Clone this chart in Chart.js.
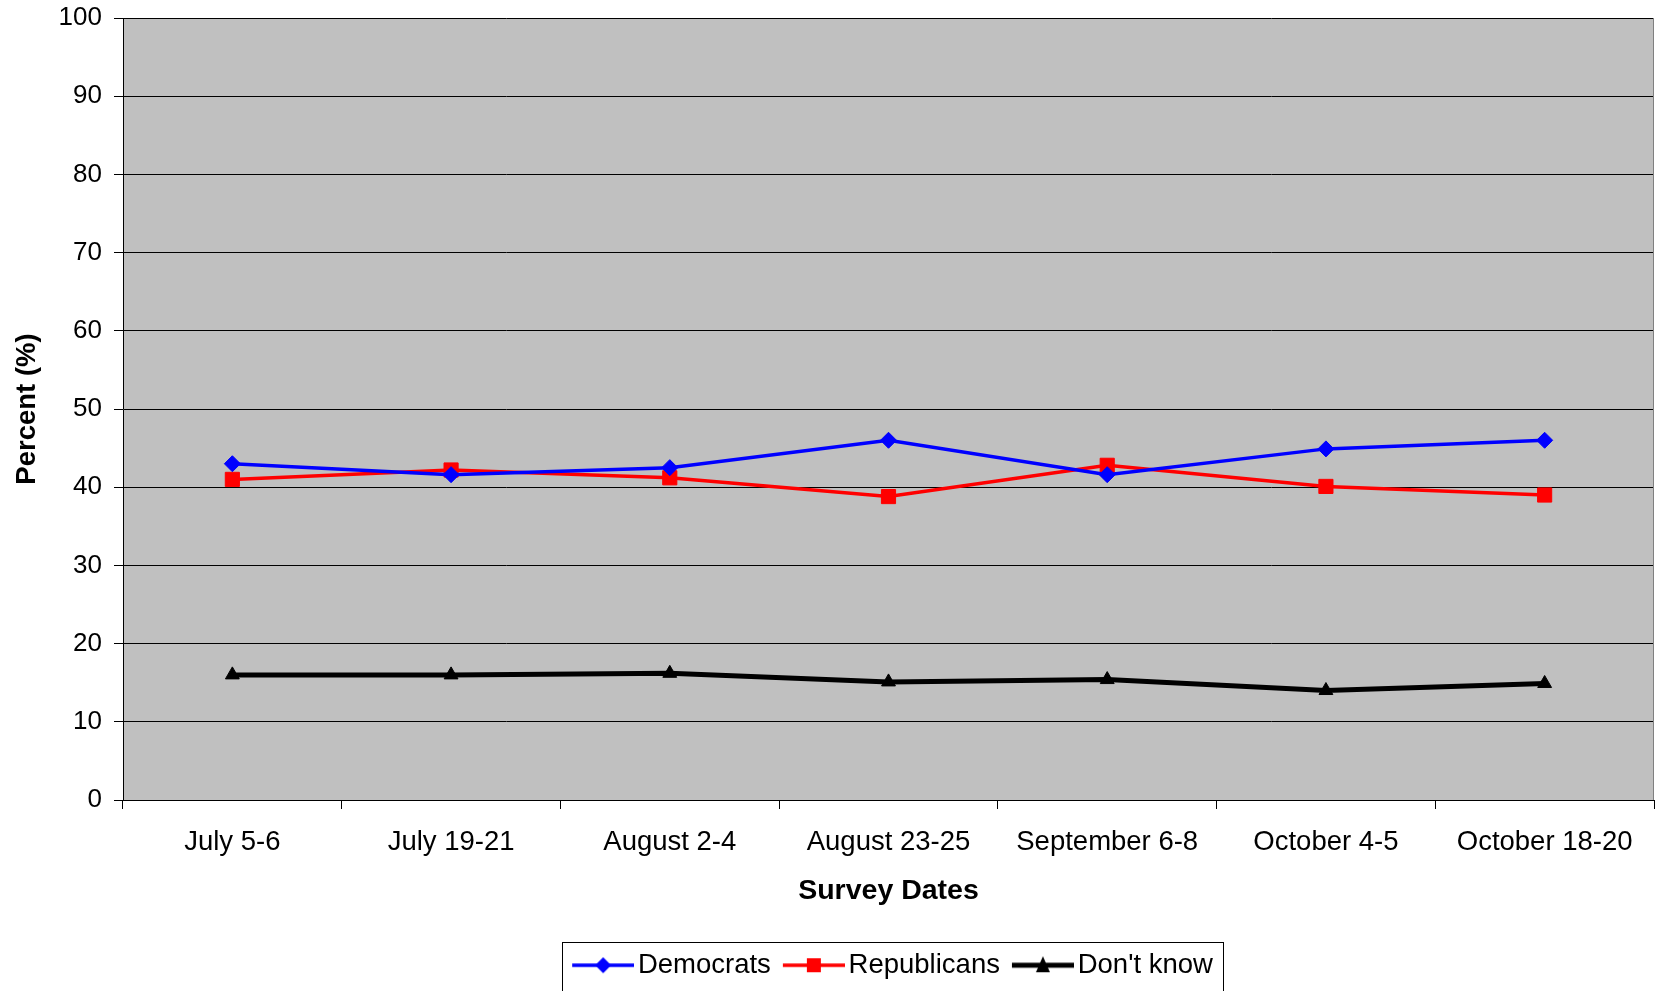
<!DOCTYPE html>
<html>
<head>
<meta charset="utf-8">
<script src="https://cdn.jsdelivr.net/npm/chart.js@4.4.0/dist/chart.umd.min.js"></script>
<style>
  body { margin: 0; background: #fff; }
</style>
</head>
<body>
<canvas id="surveyChart" width="1660" height="991"></canvas>
<script>
const surveyDates = ['July 5-6', 'July 19-21', 'August 2-4', 'August 23-25', 'September 6-8', 'October 4-5', 'October 18-20'];
const democrats = [43, 41.6, 42.5, 46, 41.6, 44.9, 46];
const republicans = [41, 42.2, 41.2, 38.8, 42.8, 40.1, 39];
const dontKnow = [16, 16, 16.2, 15.1, 15.4, 14, 14.9];
const yMin = 0, yMax = 100, yStep = 10;

const FONT = 'Liberation Sans, Arial, sans-serif';
const PLOT_BOTTOM = 800;

// line + marker picture for the legend (line shifted left so it fills the gap before the box)
function legendIcon(color, shape, lineWidth) {
    let c = document.createElement('canvas');
    c.width = 72;
    c.height = 22;
    let ctx = c.getContext('2d');
    let mid = 41, cy = 11;
    ctx.strokeStyle = color;
    ctx.fillStyle = color;
    ctx.lineWidth = lineWidth;
    ctx.beginPath();
    ctx.moveTo(10, cy);
    ctx.lineTo(72, cy);
    ctx.stroke();
    ctx.beginPath();
    if (shape === 'diamond') {
        ctx.moveTo(mid, cy - 8); ctx.lineTo(mid + 8, cy); ctx.lineTo(mid, cy + 8); ctx.lineTo(mid - 8, cy);
    } else if (shape === 'square') {
        ctx.rect(mid - 7, cy - 7, 14, 14);
    } else {
        ctx.moveTo(mid, cy - 9); ctx.lineTo(mid + 7, cy + 7); ctx.lineTo(mid - 7, cy + 7);
    }
    ctx.closePath();
    ctx.fill();
    return c;
}

const plotBackground = {
    id: 'plotBackground',
    afterLayout(chart) {
        // the legend sits under the middle of the plot, not the middle of the page
        const a = chart.chartArea;
        const lg = chart.legend;
        const shift = (a.left + a.right) / 2 + 4 - (lg.left + lg.right) / 2;
        lg.left += shift;
        lg.right += shift;
    },
    beforeDraw(chart) {
        const {ctx, chartArea: a} = chart;
        ctx.save();
        ctx.fillStyle = '#C0C0C0';
        ctx.fillRect(a.left, a.top, a.right - a.left, a.bottom - a.top);
        ctx.restore();
    },
    afterDraw(chart) {
        const {ctx, chartArea: a} = chart;
        ctx.save();
        ctx.strokeStyle = '#808080';
        ctx.lineWidth = 1;
        ctx.beginPath();
        ctx.moveTo(a.right - 0.5, a.top);
        ctx.lineTo(a.right - 0.5, a.bottom);
        ctx.stroke();
        // frame round the legend
        const boxes = chart.legend.legendHitBoxes;
        if (boxes && boxes.length) {
            let l = Math.min(...boxes.map(b => b.left)) - 10;
            let r = Math.max(...boxes.map(b => b.left + b.width)) + 10;
            let cy = boxes[0].top + boxes[0].height / 2;
            ctx.strokeStyle = '#000';
            ctx.strokeRect(Math.round(l) + 0.5, Math.round(cy - 23) + 0.5, Math.round(r - l), 49);
        }
        ctx.restore();
    }
};

let chartCanvas = document.getElementById('surveyChart');
let surveyChart = new Chart(chartCanvas, {
    type: 'line',
    data: {
        labels: surveyDates,
        datasets: [{
            label: 'Democrats',
            data: democrats,
            borderColor: '#0000FF',
            backgroundColor: '#0000FF',
            borderWidth: 3.5,
            pointStyle: 'rectRot',
            pointRadius: 8,
            pointBorderWidth: 1,
            legendIcon: legendIcon('#0000FF', 'diamond', 3.5)
        }, {
            label: 'Republicans',
            data: republicans,
            borderColor: '#FF0000',
            backgroundColor: '#FF0000',
            borderWidth: 3.5,
            pointStyle: 'rect',
            pointRadius: 10,
            pointBorderWidth: 1,
            legendIcon: legendIcon('#FF0000', 'square', 3.5)
        }, {
            label: "Don't know",
            data: dontKnow,
            borderColor: '#000000',
            backgroundColor: '#000000',
            borderWidth: 5,
            pointStyle: 'triangle',
            pointRadius: 8,
            pointBorderWidth: 1,
            legendIcon: legendIcon('#000000', 'triangle', 5)
        }]
    },
    options: {
        responsive: false,
        animation: false,
        layout: {
            autoPadding: false,
            padding: {left: 8, right: 6, top: 18, bottom: 2}
        },
        plugins: {
            legend: {
                position: 'bottom',
                labels: {
                    usePointStyle: true,
                    pointStyleWidth: 52,
                    padding: 12,
                    color: '#000',
                    font: {family: FONT, size: 27.5},
                    generateLabels(chart) {
                        return chart.data.datasets.map((ds, i) => ({
                            text: ds.label,
                            pointStyle: ds.legendIcon,
                            fillStyle: ds.borderColor,
                            strokeStyle: ds.borderColor,
                            lineWidth: 0,
                            fontColor: '#000',
                            datasetIndex: i,
                            hidden: false
                        }));
                    }
                }
            },
            tooltip: {enabled: false}
        },
        scales: {
            x: {
                type: 'category',
                offset: true,
                grid: {
                    offset: true,
                    drawOnChartArea: false,
                    drawTicks: true,
                    tickLength: 9,
                    color: '#000'
                },
                border: {color: '#000', width: 1},
                ticks: {
                    color: '#000',
                    padding: 17,
                    maxRotation: 0,
                    autoSkip: false,
                    font: {family: FONT, size: 27.5}
                },
                title: {
                    display: true,
                    text: 'Survey Dates',
                    color: '#000',
                    font: {family: FONT, size: 28.5, weight: 'bold'},
                    padding: {top: 10, bottom: 31}
                },
                afterFit(scale) {
                    // keep the plot bottom where the original has it
                    scale.height = scale.chart.height - 2 - scale.chart.legend.height - PLOT_BOTTOM;
                }
            },
            y: {
                min: yMin,
                max: yMax,
                grid: {
                    color: '#000',
                    lineWidth: 1,
                    tickLength: 9
                },
                border: {color: '#000', width: 1},
                ticks: {
                    stepSize: yStep,
                    color: '#000',
                    padding: 12,
                    font: {family: FONT, size: 26, lineHeight: 1}
                },
                title: {
                    display: true,
                    text: 'Percent (%)',
                    color: '#000',
                    font: {family: FONT, size: 27.5, weight: 'bold'},
                    padding: {top: 3, bottom: 0}
                },
                afterFit(scale) {
                    scale.width = 115;
                    // top label padding is already covered by layout.padding.top
                    scale.paddingTop = 0;
                }
            }
        }
    },
    plugins: [plotBackground]
});
</script>
</body>
</html>
